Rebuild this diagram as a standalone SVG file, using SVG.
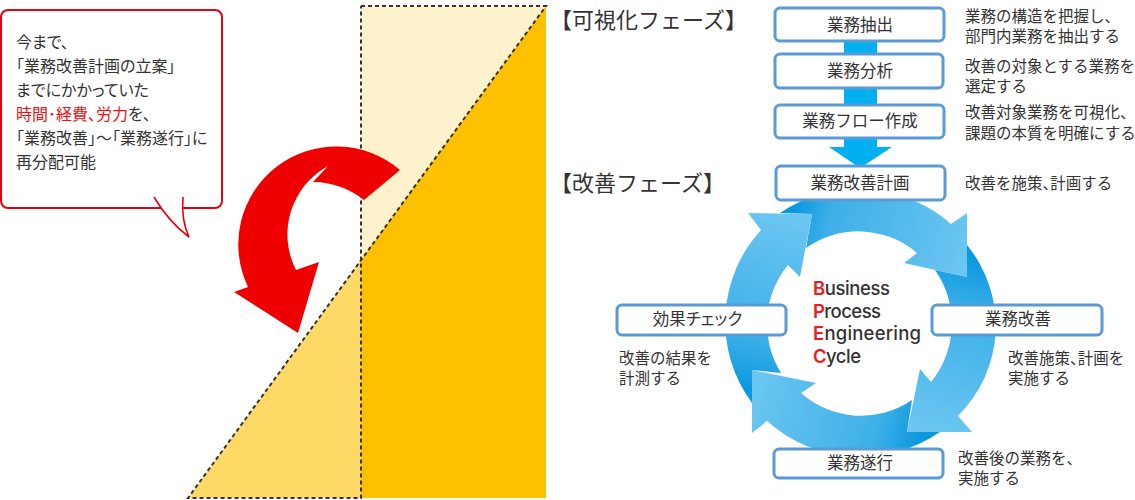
<svg xmlns="http://www.w3.org/2000/svg" width="1135" height="500" viewBox="0 0 1135 500">
<style>
text{font-family:"Noto Sans CJK JP","Noto Sans",sans-serif;fill:#333;font-size:16px}
.p{font-feature-settings:"palt"}
.d{font-size:15.5px}
.h{font-size:22px}
.b{fill:#fff;stroke:#5B9BD5;stroke-width:3}
.l{font-size:16.5px;text-anchor:middle}
.e{font-family:"Inter","Open Sans",sans-serif;font-size:18.5px;font-weight:500}
.r{fill:#ED1C24;font-weight:600}
.red{fill:#EE1111}
</style>
<defs>
<linearGradient id="g1" gradientUnits="userSpaceOnUse" x1="790" y1="225" x2="965" y2="275"><stop offset="0" stop-color="#0C98DF"/><stop offset=".2" stop-color="#3DB0E8"/><stop offset="1" stop-color="#6CC6F1"/></linearGradient>
<linearGradient id="g2" gradientUnits="userSpaceOnUse" x1="960" y1="255" x2="915" y2="430"><stop offset="0" stop-color="#0C98DF"/><stop offset=".3" stop-color="#3DB0E8"/><stop offset="1" stop-color="#6CC6F1"/></linearGradient>
<linearGradient id="g3" gradientUnits="userSpaceOnUse" x1="925" y1="420" x2="755" y2="375"><stop offset="0" stop-color="#0C98DF"/><stop offset=".25" stop-color="#3DB0E8"/><stop offset="1" stop-color="#6CC6F1"/></linearGradient>
<linearGradient id="g4" gradientUnits="userSpaceOnUse" x1="765" y1="395" x2="808" y2="218"><stop offset="0" stop-color="#0C98DF"/><stop offset=".3" stop-color="#3DB0E8"/><stop offset="1" stop-color="#6CC6F1"/></linearGradient>
</defs>

<g id="bars">
<polygon points="361,6 546,6 361,260" fill="#FEF2CC"/>
<polygon points="546,6 546,498 361,498 361,260" fill="#FFC000"/>
<polygon points="361,260 361,498 188,498" fill="#FFD966"/>
<path d="M361 6H546L188 498H361V6" fill="none" stroke="#333" stroke-width="2" stroke-dasharray="4 3"/>
</g>

<path id="shift-arrow" fill="#EE0000" d="M400 170A98 98 0 0 0 248 287L234 292L298 333L319 262L296 270A78 78 0 0 1 328 166L313 182A84 84 0 0 1 364 200Z"/>

<g id="callout">
<rect x="1" y="10" width="221" height="198" rx="7" fill="#fff" stroke="#E60012" stroke-width="2"/>
<path d="M154 197Q168 221 189 237Q181 220 183 197" fill="#fff" stroke="none"/>
<path d="M154 197Q168 221 189 237Q181 220 183 197" fill="none" stroke="#E60012" stroke-width="1.6"/>
<text class="p" x="16" y="48">今まで、</text>
<text class="p" x="16" y="72">「業務改善計画の立案」</text>
<text class="p" x="16" y="96">までにかかっていた</text>
<text class="p" x="16" y="120"><tspan class="red">時間･経費、労力</tspan>を、</text>
<text class="p" x="16" y="144">「業務改善」～「業務遂行」に</text>
<text class="p" x="16" y="168">再分配可能</text>
</g>

<g id="headers">
<text class="h" x="550" y="28">【可視化フェーズ】</text>
<text class="h" x="550" y="191">【改善フェーズ】</text>
</g>

<g id="connectors">
<polygon fill="#00B0F0" points="844,40 877,40 877,147 892,147 860,168 829,147 844,147"/>
<path fill="url(#g1)" d="M780 213A136 130 0 0 1 951 224L967 213V277L904 263L917 253A91 92 0 0 0 806 248L812 214Z"/>
<path fill="url(#g2)" d="M967 245A134 130 0 0 1 958 416L972 432H907L920 369L931 382A91 92 0 0 0 935 270L967 277Z"/>
<path fill="url(#g3)" d="M940 432A136 130 0 0 1 767 421L752 433V370L816 383L801 393A91 92 0 0 0 912 400L907 432Z"/>
<path fill="url(#g4)" d="M752 403A136 136 0 0 1 761 230L748 213L812 214L800 277L788 265A91 92 0 0 0 781 373L752 370Z"/>
</g>

<g id="n1"><rect class="b" x="775" y="8" width="169" height="33" rx="5"/><text class="l" x="860" y="31">業務抽出</text></g>
<g id="n2"><rect class="b" x="775" y="54" width="168" height="34" rx="5"/><text class="l" x="860" y="77">業務分析</text></g>
<g id="n3"><rect class="b" x="775" y="105" width="169" height="33" rx="5"/><text class="l" x="860" y="127">業務フロー作成</text></g>
<g id="n4"><rect class="b" x="776" y="166" width="169" height="34" rx="5"/><text class="l" x="860" y="189">業務改善計画</text></g>
<g id="n5"><rect class="b" x="932" y="305" width="170" height="30" rx="5"/><text class="l" x="1018" y="325">業務改善</text></g>
<g id="n6"><rect class="b" x="774" y="449" width="169" height="29" rx="5"/><text class="l" x="860" y="469">業務遂行</text></g>
<g id="n7"><rect class="b" x="617" y="305" width="169" height="30" rx="5"/><text class="l p" x="697.5" y="325">効果チェック</text></g>

<g id="descriptions">
<text class="d" x="965" y="22">業務の構造を把握し、</text>
<text class="d" x="965" y="42">部門内業務を抽出する</text>
<text class="d" x="965" y="72">改善の対象とする業務を</text>
<text class="d" x="965" y="92">選定する</text>
<text class="d" x="965" y="118">改善対象業務を可視化、</text>
<text class="d" x="965" y="139">課題の本質を明確にする</text>
<text class="d" x="965" y="189">改善を施策<tspan class="p">、</tspan>計画する</text>
<text class="d" x="1008" y="364">改善施策<tspan class="p">、</tspan>計画を</text>
<text class="d" x="1008" y="384">実施する</text>
<text class="d" x="958" y="464">改善後の業務を、</text>
<text class="d" x="958" y="484">実施する</text>
<text class="d" x="619" y="364">改善の結果を</text>
<text class="d" x="619" y="384">計測する</text>
</g>

<g id="bpec">
<text class="e" x="813" y="295" textLength="77"><tspan class="r">B</tspan>usiness</text>
<text class="e" x="813" y="318" textLength="68"><tspan class="r">P</tspan>rocess</text>
<text class="e" x="813" y="340" textLength="108"><tspan class="r">E</tspan>ngineering</text>
<text class="e" x="813" y="363" textLength="48"><tspan class="r">C</tspan>ycle</text>
</g>
</svg>
